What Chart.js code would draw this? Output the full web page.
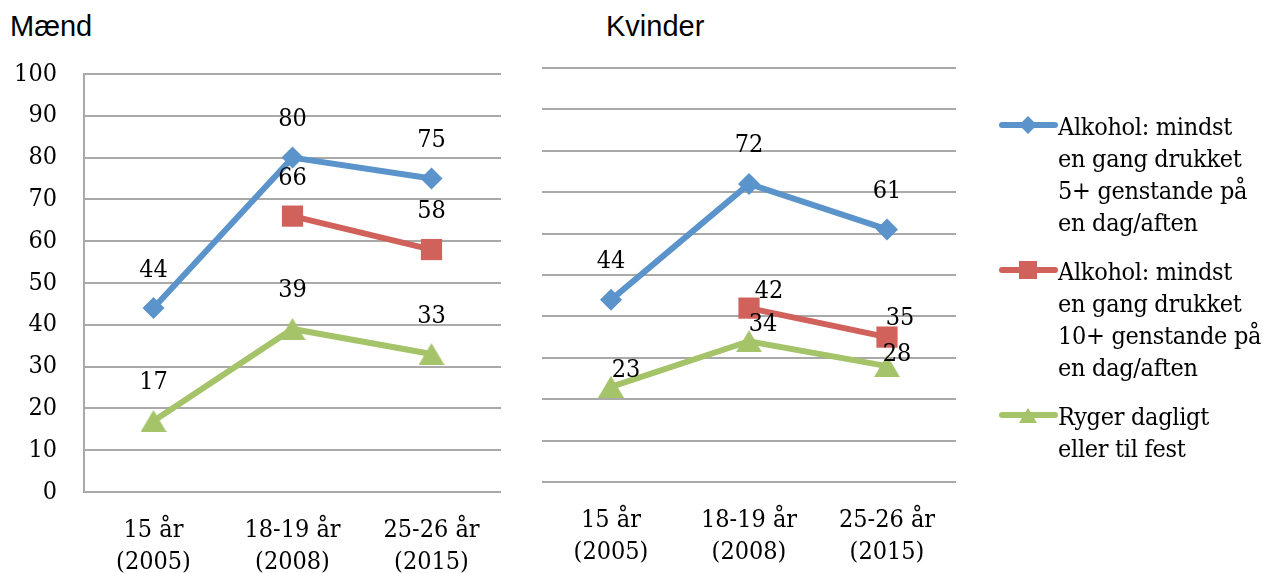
<!DOCTYPE html>
<html>
<head>
<meta charset="utf-8">
<script src="https://cdn.jsdelivr.net/npm/chart.js@4.4.1/dist/chart.umd.min.js"></script>
<style>
  body { margin: 0; background: #fff; width: 1263px; height: 573px; overflow: hidden; position: relative; }
  .title { position: absolute; top: 12px; font-family: "Liberation Sans", Arial, sans-serif; font-size: 29px; line-height: 29px; color: #000; }
  .box { position: absolute; top: 0; }
  #legend { position: absolute; left: 998px; top: 111px; font-family: "DejaVu Serif Condensed", "DejaVu Serif", serif; font-size: 25px; letter-spacing: -0.3px; color: #000; }
  .item { display: flex; align-items: flex-start; margin-bottom: 17px; }
  .item canvas { flex: none; margin-top: 4px; }
  .item div { line-height: 32px; white-space: nowrap; }
</style>
</head>
<body>
<div class="title" style="left:10px">Mænd</div>
<div class="title" style="left:606px">Kvinder</div>
<div class="box" style="left:0"><canvas id="men" width="520" height="573"></canvas></div>
<div class="box" style="left:520px"><canvas id="women" width="460" height="573"></canvas></div>
<div id="legend"></div>

<script>
// kategorier og værdier
const categories = [['15 år', '(2005)'], ['18-19 år', '(2008)'], ['25-26 år', '(2015)']];
const seriesNames = [
    ['Alkohol: mindst', 'en gang drukket', '5+ genstande på', 'en dag/aften'],
    ['Alkohol: mindst', 'en gang drukket', '10+ genstande på', 'en dag/aften'],
    ['Ryger dagligt', 'eller til fest']
];
const men5 = [44, 80, 75];
const men10 = [null, 66, 58];
const menSmoke = [17, 39, 33];
const women5 = [44, 72, 61];
const women10 = [null, 42, 35];
const womenSmoke = [23, 34, 28];
const yTicks = [0, 10, 20, 30, 40, 50, 60, 70, 80, 90, 100];

const colors = ['#5b93cb', '#d0615b', '#a5c369'];
const gridColor = '#a9a9a9';
const serif = '"DejaVu Serif Condensed", "DejaVu Serif", serif';

// trekant-markør som lille canvas
function makeTriangle(w, h, color) {
    const c = document.createElement('canvas');
    c.width = w; c.height = h;
    const g = c.getContext('2d');
    g.fillStyle = color;
    g.beginPath();
    g.moveTo(w / 2, 0);
    g.lineTo(w, h);
    g.lineTo(0, h);
    g.closePath();
    g.fill();
    return c;
}
const triangle = makeTriangle(26, 22, colors[2]);

// tal over punkterne
const valueLabels = {
    id: 'valueLabels',
    afterDatasetsDraw(chart, args, opts) {
        const ctx = chart.ctx;
        ctx.save();
        ctx.font = '25px ' + serif;
        ctx.fillStyle = '#000';
        ctx.textAlign = 'center';
        ctx.textBaseline = 'middle';
        chart.data.datasets.forEach((ds, di) => {
            chart.getDatasetMeta(di).data.forEach((pt, i) => {
                const v = ds.data[i];
                if (v === null) return;
                const off = (opts.offsets && opts.offsets[di] && opts.offsets[di][i]) || [0, -38];
                ctx.fillText(String(v), pt.x + off[0], pt.y + off[1]);
            });
        });
        ctx.restore();
    }
};

function makeDatasets(a, b, c) {
    const base = { borderWidth: 6, pointBorderWidth: 0, pointHoverRadius: 0, tension: 0, clip: false };
    return [
        Object.assign({}, base, { label: seriesNames[0].join(' '), data: a, borderColor: colors[0], pointBackgroundColor: colors[0], pointStyle: 'rectRot', pointRadius: 11 }),
        Object.assign({}, base, { label: seriesNames[1].join(' '), data: b, borderColor: colors[1], pointBackgroundColor: colors[1], pointStyle: 'rect', pointRadius: 15 }),
        Object.assign({}, base, { label: seriesNames[2].join(' '), data: c, borderColor: colors[2], pointBackgroundColor: colors[2], pointStyle: triangle, pointRadius: 13 })
    ];
}

function makeChart(id, sets, opt) {
    return new Chart(document.getElementById(id), {
        type: 'line',
        data: { labels: categories, datasets: sets },
        options: {
            responsive: false,
            animation: false,
            devicePixelRatio: 1,
            layout: { padding: { top: opt.top, right: opt.right, left: opt.left, bottom: 0 } },
            plugins: {
                legend: { display: false },
                tooltip: { enabled: false },
                valueLabels: { offsets: opt.offsets }
            },
            scales: {
                x: {
                    offset: true,
                    grid: { display: false },
                    border: { display: false },
                    ticks: { color: '#000', font: { family: serif, size: 25, lineHeight: 1.28 }, padding: 14, maxRotation: 0, autoSkip: false },
                    afterFit(scale) { scale.height = opt.xHeight; }
                },
                y: {
                    min: 0,
                    max: 100,
                    afterBuildTicks(scale) { scale.ticks = yTicks.map(v => ({ value: v })); },
                    grid: { color: gridColor, lineWidth: 2, drawTicks: false },
                    border: { display: opt.showY, color: gridColor, width: 2 },
                    ticks: { display: opt.showY, color: '#000', font: { family: serif, size: 25 }, padding: 27 },
                    afterFit(scale) { scale.width = opt.yWidth; }
                }
            }
        },
        plugins: [valueLabels]
    });
}

makeChart('men', makeDatasets(men5, men10, menSmoke), {
    top: 74, right: 19, left: 0, xHeight: 81, yWidth: 84, showY: true
});

makeChart('women', makeDatasets(women5, women10, womenSmoke), {
    top: 68, right: 24, left: 0, xHeight: 91, yWidth: 22, showY: false,
    offsets: [
        [[0, -38], [0, -38], [0, -38]],
        [null, [20, -17], [13, -19]],
        [[15, -16], [14, -17], [10, -12]]
    ]
});

// forklaring: streg med markør i midten
const legend = document.getElementById('legend');
seriesNames.forEach((lines, i) => {
    const item = document.createElement('div');
    item.className = 'item';
    const sw = document.createElement('canvas');
    sw.width = 60; sw.height = 20;
    const g = sw.getContext('2d');
    g.strokeStyle = colors[i];
    g.lineWidth = 6;
    g.lineCap = 'round';
    g.beginPath();
    g.moveTo(4, 10);
    g.lineTo(57, 10);
    g.stroke();
    g.fillStyle = colors[i];
    if (i === 0) {
        g.beginPath();
        g.moveTo(30, 1); g.lineTo(39, 10); g.lineTo(30, 19); g.lineTo(21, 10);
        g.closePath(); g.fill();
    } else if (i === 1) {
        g.fillRect(21, 1, 18, 18);
    } else {
        g.drawImage(makeTriangle(18, 15, colors[2]), 21, 3);
    }
    const txt = document.createElement('div');
    txt.innerHTML = lines.join('<br>');
    item.appendChild(sw);
    item.appendChild(txt);
    legend.appendChild(item);
});
</script>
</body>
</html>
